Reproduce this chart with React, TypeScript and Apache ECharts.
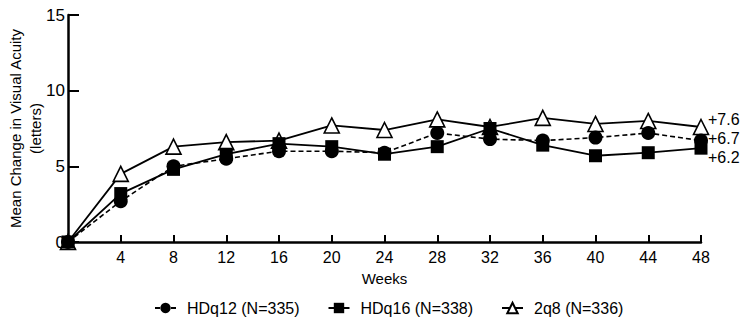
import React, { useEffect, useRef } from "react";
import * as echarts from "echarts";

const weeks = [0, 4, 8, 12, 16, 20, 24, 28, 32, 36, 40, 44, 48];
const hdq12 = [0, 2.7, 5.0, 5.5, 6.0, 6.0, 5.9, 7.2, 6.8, 6.7, 6.9, 7.2, 6.7];
const hdq16 = [0, 3.2, 4.8, 5.8, 6.5, 6.3, 5.8, 6.3, 7.5, 6.4, 5.7, 5.9, 6.2];
const q8 = [0, 4.5, 6.3, 6.6, 6.7, 7.7, 7.4, 8.1, 7.6, 8.2, 7.8, 8.0, 7.6];
const seriesNames = ["HDq12 (N=335)", "HDq16 (N=338)", "2q8 (N=336)"];
const yTicks = [0, 5, 10, 15];

const FONT = "Liberation Sans, Arial, Helvetica, sans-serif";

export default function App() {
  const ref = useRef<HTMLDivElement>(null);
  useEffect(() => {
    if (!ref.current) return;
    const chart = echarts.init(ref.current, null, { renderer: "svg" });
    const pair = (arr: number[]) => weeks.map((w, i) => [w, arr[i]]);
    const endLabel = (dy: number) => ({
      show: true,
      formatter: (p: any) => "+" + Number(p.value[1]).toFixed(1),
      color: "#000",
      fontSize: 16,
      lineHeight: 16,
      fontFamily: FONT,
      distance: 7,
      offset: [0, dy],
    });
    chart.setOption({
      animation: false,
      textStyle: { fontFamily: FONT, color: "#000" },
      grid: {
        left: 68,
        right: 47,
        top: 15,
        bottom: 84,
        containLabel: false,
        outerBoundsMode: "none",
      },
      legend: {
        data: seriesNames,
        bottom: 5,
        left: 149,
        itemWidth: 21,
        itemHeight: 13,
        itemGap: 28,
        textStyle: { fontSize: 16, color: "#000", fontFamily: FONT, padding: [0, 0, 0, 6] },
      },
      xAxis: {
        type: "value",
        min: 0,
        max: 48,
        interval: 4,
        name: "Weeks",
        nameLocation: "middle",
        nameGap: 29,
        nameMoveOverlap: false,
        nameTextStyle: { fontSize: 15, color: "#000", fontFamily: FONT },
        axisLine: { show: true, onZero: false, lineStyle: { color: "#000", width: 2.5 } },
        axisTick: { show: true, inside: true, length: 7, lineStyle: { color: "#000", width: 2 } },
        axisLabel: {
          color: "#000",
          fontSize: 16,
          fontFamily: FONT,
          margin: 7,
          formatter: (v: number) => (v === 0 ? "" : String(v)),
        },
        splitLine: { show: false },
      },
      yAxis: {
        type: "value",
        min: yTicks[0],
        max: yTicks[yTicks.length - 1],
        interval: 5,
        name: "Mean Change in Visual Acuity\n(letters)",
        nameLocation: "middle",
        nameGap: 23,
        nameMoveOverlap: false,
        nameTextStyle: { fontSize: 15, color: "#000", fontFamily: FONT, lineHeight: 20 },
        axisLine: { show: true, lineStyle: { color: "#000", width: 2.5 } },
        axisTick: { show: true, inside: true, length: 11, lineStyle: { color: "#000", width: 2 } },
        axisLabel: { color: "#000", fontSize: 17, fontFamily: FONT, margin: 3 },
        splitLine: { show: false },
      },
      series: [
        {
          name: seriesNames[2],
          type: "line",
          data: pair(q8),
          symbol: "triangle",
          symbolSize: 15,
          lineStyle: { color: "#000", width: 1.8 },
          itemStyle: { color: "#fff", borderColor: "#000", borderWidth: 1.6 },
          endLabel: endLabel(-7),
          z: 2,
        },
        {
          name: seriesNames[0],
          type: "line",
          data: pair(hdq12),
          symbol: "circle",
          symbolSize: 14,
          lineStyle: { color: "#000", width: 1.6, type: [5, 3] },
          itemStyle: { color: "#000", borderColor: "#000", borderWidth: 0 },
          endLabel: endLabel(-2),
          z: 3,
        },
        {
          name: seriesNames[1],
          type: "line",
          data: pair(hdq16),
          symbol: "rect",
          symbolSize: 13,
          lineStyle: { color: "#000", width: 1.8 },
          itemStyle: { color: "#000", borderColor: "#000", borderWidth: 0 },
          endLabel: endLabel(9),
          z: 4,
        },
      ],
    });
    return () => chart.dispose();
  }, []);
  return <div ref={ref} style={{ width: 748, height: 326, margin: -8 }} />;
}
